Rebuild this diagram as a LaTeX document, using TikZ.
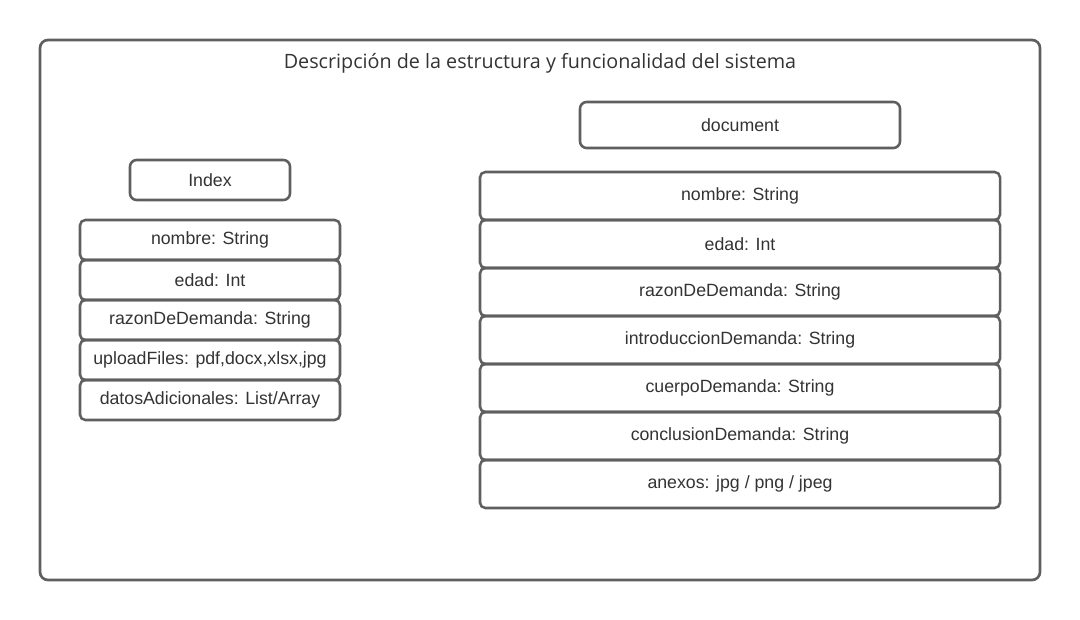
\documentclass[tikz,border=0pt]{standalone}
\usepackage{fontspec}
\setmainfont{Liberation Sans}
\newfontfamily\titlefont{Open Sans}
\definecolor{frame}{HTML}{5F5F5F}
\definecolor{ink}{HTML}{333333}
\begin{document}
\begin{tikzpicture}[x=0.75pt,y=-0.75pt,
    field/.style={draw=frame, line width=1.9pt, rounded corners=4pt, text=ink,
        font=\fontsize{13.3}{15}\selectfont, inner sep=0pt},
    leftfield/.style={field, minimum width=195pt, minimum height=30pt},
    rightfield/.style={field, minimum width=390pt, minimum height=36pt},
    classbox/.style={field, rounded corners=5pt}]
                \useasboundingbox (0,0) rectangle (1080,620);
                \draw[frame, line width=2pt, rounded corners=6pt] (40,40) rectangle (1040,580);
                \node[text=ink, font=\titlefont\fontsize{14.8}{17}\selectfont] (title) at (540,63) {Descripción de la estructura y funcionalidad del sistema};

                % Index
                \node[classbox, minimum width=120pt, minimum height=30pt] (index) at (210,180) {Index};
                \node[leftfield] (inombre) at (210,240) {nombre: String};
                \node[leftfield] (iedad) at (210,280) {edad: Int};
                \node[leftfield] (irazon) at (210,320) {razonDeDemanda: String};
                \node[leftfield] (iupload) at (210,360) {uploadFiles: pdf,docx,xlsx,jpg};
                \node[leftfield] (idatos) at (210,400) {datosAdicionales: List/Array};

                % document
                \node[classbox, minimum width=240pt, minimum height=34.5pt] (document) at (740,125) {document};
                \node[rightfield] (dnombre) at (740,196) {nombre: String};
                \node[rightfield] (dedad) at (740,244) {edad: Int};
                \node[rightfield] (drazon) at (740,292) {razonDeDemanda: String};
                \node[rightfield] (dintro) at (740,340) {introduccionDemanda: String};
                \node[rightfield] (dcuerpo) at (740,388) {cuerpoDemanda: String};
                \node[rightfield] (dconclusion) at (740,436) {conclusionDemanda: String};
                \node[rightfield] (danexos) at (740,484) {anexos: jpg / png / jpeg};
\end{tikzpicture}
\end{document}
